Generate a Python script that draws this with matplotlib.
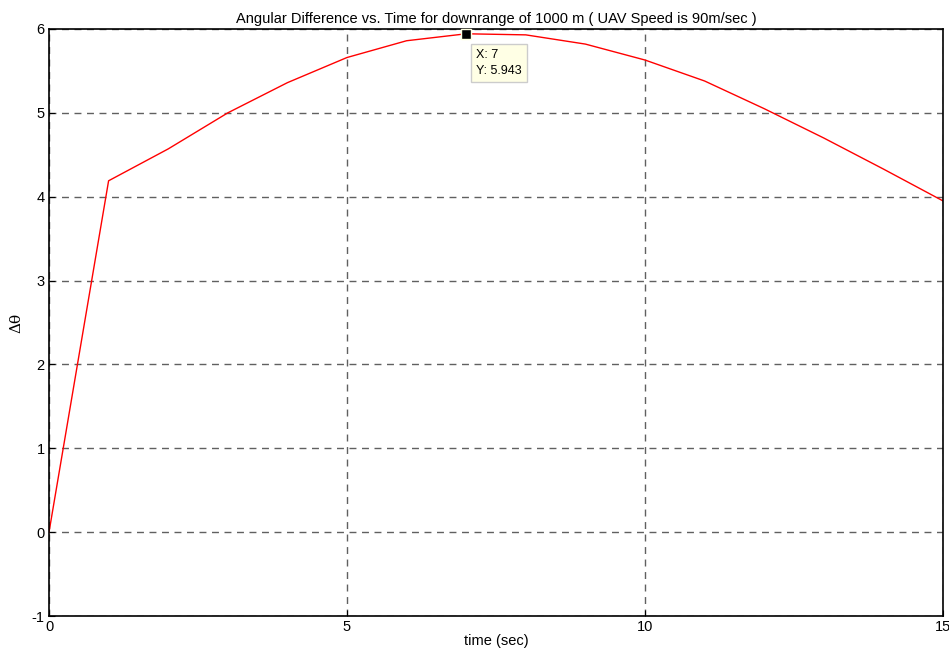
import numpy as np
import matplotlib.pyplot as plt

plt.rcParams['font.family'] = ['Liberation Sans', 'DejaVu Sans']
plt.rcParams['axes.unicode_minus'] = False

# time (sec) and angular difference
time_sec = [0, 1, 2, 3, 4, 5, 6, 7, 8, 9, 10, 11, 12, 13, 14, 15]
delta_theta = [0.0, 4.19, 4.57, 5.0, 5.36, 5.66, 5.86, 5.943, 5.93, 5.82,
               5.63, 5.38, 5.05, 4.70, 4.33, 3.95]
x_ticks = [0, 5, 10, 15]
y_ticks = [-1, 0, 1, 2, 3, 4, 5, 6]
tip_x = 7
tip_y = 5.943

fig = plt.figure(figsize=(9.49, 6.57), dpi=100)
ax = fig.add_axes([49 / 949, 41 / 657, 894 / 949, 587 / 657])

ax.plot(time_sec, delta_theta, color='red', linewidth=1)

ax.set_xlim(0, 15)
ax.set_ylim(-1, 6)
ax.set_xticks(x_ticks)
ax.set_yticks(y_ticks)
ax.tick_params(direction='in', length=4, labelsize=10.5, pad=3)
ax.grid(True, color='#606060', linestyle=(0, (5, 4)), linewidth=1)
for sp in ax.spines.values():
    sp.set_linewidth(1.2)

ax.set_title('Angular Difference vs. Time for downrange of 1000 m ( UAV Speed is 90m/sec )',
             fontsize=10.5, pad=4)
ax.set_xlabel('time (sec)', fontsize=10.5, labelpad=0)
ax.set_ylabel('Δθ', fontsize=11, labelpad=6, family=['DejaVu Serif'])

# data tip
ax.plot([tip_x], [tip_y], marker='s', color='black', markersize=7,
        markeredgecolor='#ffffe0', markeredgewidth=1, clip_on=False, zorder=5)
ax.annotate('X: %g\nY: %.3f' % (tip_x, tip_y), xy=(tip_x, tip_y),
            xytext=(7, -11), textcoords='offset points', va='top', ha='left',
            fontsize=9, linespacing=1.4,
            bbox=dict(boxstyle='square,pad=0.4', fc='#ffffe5', ec='#cccccc', lw=1),
            zorder=6)

fig.savefig('out.png', dpi=100)
